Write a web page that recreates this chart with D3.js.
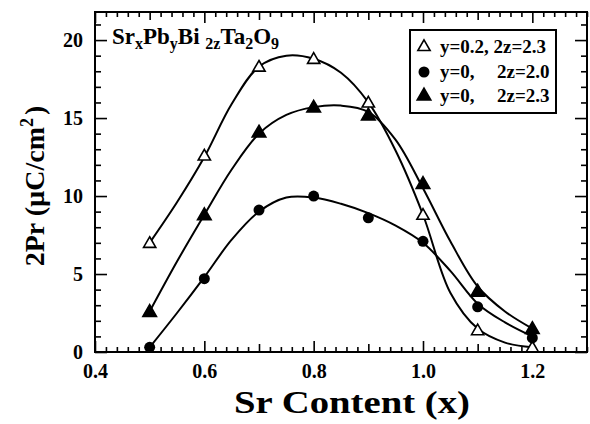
<!DOCTYPE html>
<html>
<head>
<meta charset="utf-8">
<script src="https://cdn.jsdelivr.net/npm/d3@7"></script>
<style>
  html, body { margin: 0; padding: 0; background: #fff; }
  svg { display: block; }
  text { font-family: "Liberation Serif", "Times New Roman", serif; font-weight: bold; fill: #000; }
</style>
</head>
<body>
<svg id="chart" width="590" height="424"></svg>
<script>
// Measured remanent polarization vs Sr content
const srContent = [0.5, 0.6, 0.7, 0.8, 0.9, 1.0, 1.1, 1.2];
const prY02z23 = [7.0, 12.6, 18.3, 18.8, 16.0, 8.8, 1.4, 0.3];   // y=0.2, 2z=2.3 (open triangles)
const prY0z20  = [0.3, 4.7, 9.1, 10.0, 8.6, 7.1, 2.9, 0.9];      // y=0,   2z=2.0 (filled circles)
const prY0z23  = [2.6, 8.8, 14.1, 15.7, 15.2, 10.8, 3.9, 1.5];   // y=0,   2z=2.3 (filled triangles)

// Smoothed guide curves for each series
const fitX        = [0.5, 0.55, 0.6, 0.65, 0.7, 0.75, 0.8, 0.85, 0.9, 0.95, 1.0, 1.05, 1.1, 1.15, 1.2];
const fitY02z23   = [7.0, 9.6, 12.5, 15.9, 18.3, 19.0, 18.8, 17.9, 16.0, 12.9, 8.8, 3.8, 1.5, 0.6, 0.3];
const fitY0z20    = [0.3, 2.5, 4.8, 7.2, 9.0, 9.9, 9.9, 9.5, 8.9, 8.1, 7.0, 5.2, 3.1, 1.9, 1.0];
const fitY0z23    = [2.6, 5.8, 8.8, 11.7, 14.0, 15.2, 15.7, 15.8, 15.4, 13.6, 10.5, 7.1, 4.2, 2.6, 1.5];

const xMajor = [0.4, 0.6, 0.8, 1.0, 1.2];
const yMajor = [0, 5, 10, 15, 20];

const svg = d3.select("#chart");
const L = 95, R = 587, T = 12, B = 352;

const x = d3.scaleLinear().domain([0.4, 1.3]).range([L, R]);
const y = d3.scaleLinear().domain([0, 21.8]).range([B, T]);

const fmtX = d3.format(".1f");
const xMid = d3.range(0.5, 1.3, 0.2).map(v => +v.toFixed(2));
const xMinor = d3.range(0.42, 1.3, 0.02).map(v => +v.toFixed(2))
  .filter(v => !xMajor.some(m => Math.abs(m - v) < 1e-6) && !xMid.some(m => Math.abs(m - v) < 1e-6));
const yMinor = d3.range(1, 22, 1).filter(v => v % 5 !== 0);

function tickAxis(axisFn, scale, values, size, transform, fmt, pad) {
  const g = svg.append("g").attr("transform", transform)
    .call(axisFn(scale).tickValues(values).tickSize(size).tickPadding(pad || 0)
      .tickFormat(fmt || (() => "")));
  g.select(".domain").remove();
  g.selectAll("line").attr("stroke", "#000").attr("stroke-width", 1.6);
  if (!fmt) g.selectAll("text").remove();
  return g;
}

// bottom
const gxb = tickAxis(d3.axisBottom, x, xMajor, -11, `translate(0,${B})`, fmtX, 12);
gxb.selectAll("text").style("font-size", "20px").attr("fill", "#000");
tickAxis(d3.axisBottom, x, xMid, -8, `translate(0,${B})`);
tickAxis(d3.axisBottom, x, xMinor, -5, `translate(0,${B})`);
// top
tickAxis(d3.axisTop, x, xMajor, -11, `translate(0,${T})`);
tickAxis(d3.axisTop, x, xMid, -8, `translate(0,${T})`);
tickAxis(d3.axisTop, x, xMinor, -5, `translate(0,${T})`);
// left
const gyl = tickAxis(d3.axisLeft, y, yMajor, -12, `translate(${L},0)`, d3.format("d"), 12);
gyl.selectAll("text").style("font-size", "20px").attr("fill", "#000");
tickAxis(d3.axisLeft, y, yMinor, -6, `translate(${L},0)`);
// right
tickAxis(d3.axisRight, y, yMajor, -12, `translate(${R},0)`);
tickAxis(d3.axisRight, y, yMinor, -6, `translate(${R},0)`);

// frame
svg.append("rect").attr("x", L).attr("y", T).attr("width", R - L).attr("height", B - T)
  .attr("fill", "none").attr("stroke", "#000").attr("stroke-width", 2);

// guide curves
const line = d3.line().x(d => x(d[0])).y(d => y(d[1])).curve(d3.curveCatmullRom.alpha(0.5));
[fitY02z23, fitY0z20, fitY0z23].forEach(arr => {
  svg.append("path").datum(fitX.map((v, i) => [v, arr[i]]))
    .attr("d", line).attr("fill", "none").attr("stroke", "#000").attr("stroke-width", 2);
});

// markers
const triPath = d3.symbol().type(d3.symbolTriangle);
function drawTri(cx, cy, filled, size) {
  svg.append("path").attr("d", triPath.size(size)())
    .attr("transform", `translate(${cx},${cy + 1})`)
    .attr("fill", filled ? "#000" : "#fff").attr("stroke", "#000").attr("stroke-width", 1.6);
}
function drawDot(cx, cy) {
  svg.append("circle").attr("cx", cx).attr("cy", cy).attr("r", 5.5).attr("fill", "#000");
}
srContent.forEach((v, i) => drawTri(x(v), y(prY02z23[i]), false, 65));
srContent.forEach((v, i) => drawDot(x(v), y(prY0z20[i])));
srContent.forEach((v, i) => drawTri(x(v), y(prY0z23[i]), true, 80));

// compound formula label
const f = svg.append("text").attr("x", 112).attr("y", 44).style("font-size", "23px");
const parts = [["Sr", 0], ["x", 1], ["Pb", 0], ["y", 1], ["Bi ", 0], ["2z", 1], ["Ta", 0], ["2", 1], ["O", 0], ["9", 1]];
let shifted = false;
parts.forEach(([t, sub]) => {
  const dy = sub ? (shifted ? 0 : 5) : (shifted ? -5 : 0);
  shifted = !!sub;
  f.append("tspan").text(t).attr("dy", dy).style("font-size", sub ? "16px" : "23px");
});

// legend
svg.append("rect").attr("x", 410).attr("y", 30).attr("width", 146).attr("height", 83)
  .attr("fill", "#fff").attr("stroke", "#000").attr("stroke-width", 2);
const legendRows = [
  { kind: "open", a: "y=0.2, 2z=2.3", b: null, cy: 47 },
  { kind: "dot", a: "y=0,", b: "2z=2.0", cy: 72 },
  { kind: "fill", a: "y=0,", b: "2z=2.3", cy: 96 }
];
legendRows.forEach(r => {
  if (r.kind === "open") drawTri(424, r.cy - 1, false, 65);
  else if (r.kind === "dot") drawDot(424, r.cy);
  else drawTri(424, r.cy - 1, true, 80);
  svg.append("text").attr("x", 440).attr("y", r.cy + 6).style("font-size", "19px").text(r.a);
  if (r.b) svg.append("text").attr("x", 497).attr("y", r.cy + 6).style("font-size", "19px").text(r.b);
});

// axis titles
svg.append("text").attr("x", 352).attr("y", 413).attr("text-anchor", "middle")
  .attr("textLength", 236).attr("lengthAdjust", "spacingAndGlyphs")
  .style("font-size", "31px").text("Sr Content (x)");

const yt = svg.append("text").attr("transform", "translate(44,186) rotate(-90)")
  .attr("text-anchor", "middle").style("font-size", "28px");
yt.append("tspan").text("2Pr (\u00B5C/cm");
yt.append("tspan").text("2").attr("dy", -11).style("font-size", "18px");
yt.append("tspan").text(")").attr("dy", 11).attr("dx", 3);
</script>
</body>
</html>
